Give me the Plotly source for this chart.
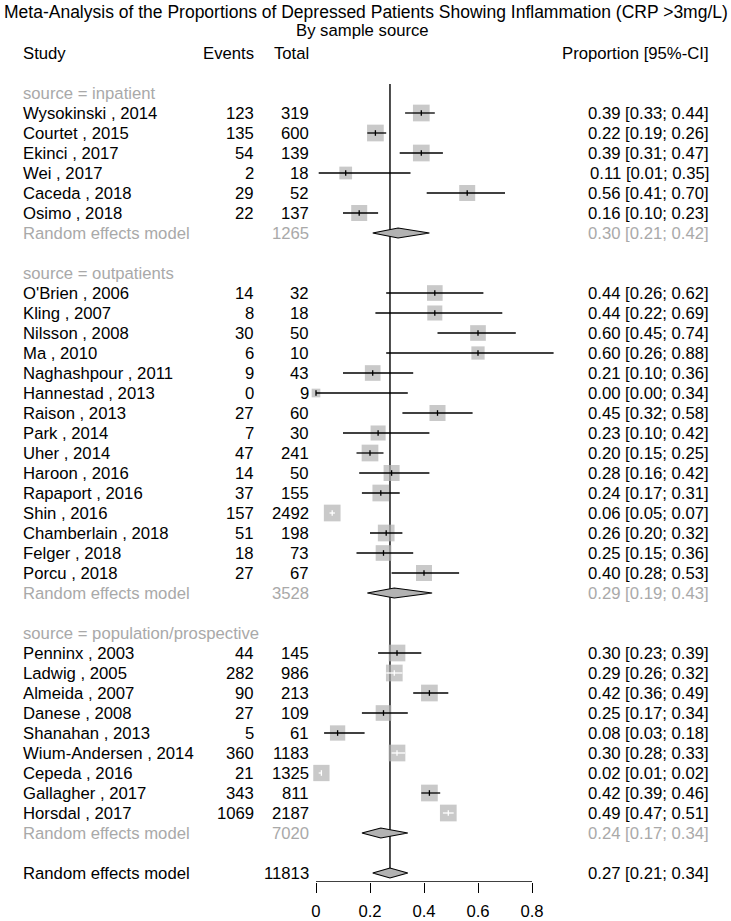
import plotly.graph_objects as go

# ---------------- data ----------------
group_names = ["inpatient", "outpatients", "population/prospective"]

inpatient_studies = ["Wysokinski , 2014", "Courtet , 2015", "Ekinci , 2017", "Wei , 2017",
                     "Caceda , 2018", "Osimo , 2018"]
inpatient_events = [123, 135, 54, 2, 29, 22]
inpatient_total = [319, 600, 139, 18, 52, 137]
inpatient_prop = [0.39, 0.22, 0.39, 0.11, 0.56, 0.16]
inpatient_lower = [0.33, 0.19, 0.31, 0.01, 0.41, 0.10]
inpatient_upper = [0.44, 0.26, 0.47, 0.35, 0.70, 0.23]
inpatient_weight = [1.0, 1.0, 1.0, 0.58, 0.92, 0.92]

outpatient_studies = ["O'Brien , 2006", "Kling , 2007", "Nilsson , 2008", "Ma , 2010",
                      "Naghashpour , 2011", "Hannestad , 2013", "Raison , 2013", "Park , 2014",
                      "Uher , 2014", "Haroon , 2016", "Rapaport , 2016", "Shin , 2016",
                      "Chamberlain , 2018", "Felger , 2018", "Porcu , 2018"]
outpatient_events = [14, 8, 30, 6, 9, 0, 27, 7, 47, 14, 37, 157, 51, 18, 27]
outpatient_total = [32, 18, 50, 10, 43, 9, 60, 30, 241, 50, 155, 2492, 198, 73, 67]
outpatient_prop = [0.44, 0.44, 0.60, 0.60, 0.21, 0.00, 0.45, 0.23, 0.20, 0.28, 0.24, 0.06,
                   0.26, 0.25, 0.40]
outpatient_lower = [0.26, 0.22, 0.45, 0.26, 0.10, 0.00, 0.32, 0.10, 0.15, 0.16, 0.17, 0.05,
                    0.20, 0.15, 0.28]
outpatient_upper = [0.62, 0.69, 0.74, 0.88, 0.36, 0.34, 0.58, 0.42, 0.25, 0.42, 0.31, 0.07,
                    0.32, 0.36, 0.53]
outpatient_weight = [0.88, 0.81, 0.88, 0.63, 0.88, 0.27, 0.92, 0.81, 1.0, 0.92, 1.0, 1.0,
                     1.0, 0.88, 0.92]

population_studies = ["Penninx , 2003", "Ladwig , 2005", "Almeida , 2007", "Danese , 2008",
                      "Shanahan , 2013", "Wium-Andersen , 2014", "Cepeda , 2016",
                      "Gallagher , 2017", "Horsdal , 2017"]
population_events = [44, 282, 90, 27, 5, 360, 21, 343, 1069]
population_total = [145, 986, 213, 109, 61, 1183, 1325, 811, 2187]
population_prop = [0.30, 0.29, 0.42, 0.25, 0.08, 0.30, 0.02, 0.42, 0.49]
population_lower = [0.23, 0.26, 0.36, 0.17, 0.03, 0.28, 0.01, 0.39, 0.47]
population_upper = [0.39, 0.32, 0.49, 0.34, 0.18, 0.33, 0.02, 0.46, 0.51]
population_weight = [1.0, 1.0, 1.0, 0.88, 0.84, 1.0, 0.95, 1.0, 1.0]

subgroup_total = [1265, 3528, 7020]
subgroup_prop = [0.304, 0.29, 0.24]
subgroup_lower = [0.21, 0.19, 0.17]
subgroup_upper = [0.42, 0.43, 0.34]

overall_total = 11813
overall_prop = 0.274
overall_lower = 0.21
overall_upper = 0.34

tick_values = [0, 0.2, 0.4, 0.6, 0.8]
tick_labels = ["0", "0.2", "0.4", "0.6", "0.8"]

title_text = "Meta-Analysis of the Proportions of Depressed Patients Showing Inflammation (CRP >3mg/L)"
subtitle_text = "By sample source"

# ---------------- layout constants ----------------
W, H = 731, 921
FONT = "Liberation Sans, Arial, Helvetica, sans-serif"
FS = 16.7
FS_TITLE = 17.5
BLACK = "#000000"
GREY = "#a9a9a9"
SQ = "#b2b2b2"
PX_PER_UNIT = 270.0      # horizontal pixels per proportion unit
X0_PX = 316.0            # pixel of proportion 0
ROW_PX = 20.0            # pixels per row
ROW0_PX = 113.0          # pixel of first study row
AXIS_PX = 882.0          # pixel of x-axis line
BASE_SIDE = 16.7         # square side for weight 1

groups = [
    dict(name=group_names[0], studies=inpatient_studies, events=inpatient_events,
         total=inpatient_total, prop=inpatient_prop, lo=inpatient_lower,
         hi=inpatient_upper, w=inpatient_weight),
    dict(name=group_names[1], studies=outpatient_studies, events=outpatient_events,
         total=outpatient_total, prop=outpatient_prop, lo=outpatient_lower,
         hi=outpatient_upper, w=outpatient_weight),
    dict(name=group_names[2], studies=population_studies, events=population_events,
         total=population_total, prop=population_prop, lo=population_lower,
         hi=population_upper, w=population_weight),
]

annotations = []


def px_x(px):
    return px / W


def add_text(row, px, text, anchor, color=BLACK):
    annotations.append(dict(x=px_x(px), xref="paper", y=row, yref="y", text=text,
                            xanchor=anchor, yanchor="middle", showarrow=False, borderpad=0,
                            font=dict(family=FONT, size=FS, color=color)))


def ci_text(p, lo, hi):
    return f"{p:.2f} [{lo:.2f}; {hi:.2f}]"


COL_STUDY, COL_EVENTS, COL_TOTAL, COL_CI = 21.5, 255, 309.5, 709.5

# header
add_text(-3, COL_STUDY, "Study", "left")
add_text(-3, COL_EVENTS, "Events", "right")
add_text(-3, COL_TOTAL, "Total", "right")
add_text(-3, COL_CI, "Proportion [95%-CI]", "right")

sq_x, sq_y, sq_size = [], [], []
black_x, black_y = [], []
white_x, white_y = [], []
diamonds = []

row = 0
for gi, g in enumerate(groups):
    add_text(row - 1, COL_STUDY, "source = " + g["name"], "left", GREY)
    for i, name in enumerate(g["studies"]):
        p, lo, hi = g["prop"][i], g["lo"][i], g["hi"][i]
        side = BASE_SIDE * g["w"][i] ** 0.5
        add_text(row, COL_STUDY, name, "left")
        add_text(row, COL_EVENTS, str(g["events"][i]), "right")
        add_text(row, COL_TOTAL, str(g["total"][i]), "right")
        add_text(row, COL_CI, ci_text(p, lo, hi), "right")
        sq_x.append(p)
        sq_y.append(row)
        sq_size.append(side)
        inside = (hi - lo) * PX_PER_UNIT < side
        tx, ty = (white_x, white_y) if inside else (black_x, black_y)
        tx += [lo, hi, None, p, p, None]
        ty += [row, row, None, row - 0.14, row + 0.14, None]
        row += 1
    add_text(row, COL_STUDY, "Random effects model", "left", GREY)
    add_text(row, COL_TOTAL, str(subgroup_total[gi]), "right", GREY)
    add_text(row, COL_CI, ci_text(subgroup_prop[gi], subgroup_lower[gi], subgroup_upper[gi]),
             "right", GREY)
    diamonds.append((row, subgroup_prop[gi], subgroup_lower[gi], subgroup_upper[gi]))
    row += 3
overall_row = row - 1
add_text(overall_row, COL_STUDY, "Random effects model", "left")
add_text(overall_row, COL_TOTAL, str(overall_total), "right")
add_text(overall_row, COL_CI, ci_text(overall_prop, overall_lower, overall_upper), "right")
diamonds.append((overall_row, overall_prop, overall_lower, overall_upper))

# title
annotations.append(dict(x=px_x(366), xref="paper", y=1 - 12 / H, yref="paper",
                        text=title_text, xanchor="center", yanchor="middle", showarrow=False,
                        borderpad=0, font=dict(family=FONT, size=FS_TITLE, color=BLACK)))
annotations.append(dict(x=px_x(362), xref="paper", y=1 - 30 / H, yref="paper",
                        text=subtitle_text, xanchor="center", yanchor="middle", showarrow=False,
                        borderpad=0, font=dict(family=FONT, size=FS, color=BLACK)))

fig = go.Figure()

# vertical reference line at overall estimate
DH = 5.0 / ROW_PX
fig.add_trace(go.Scatter(x=[overall_prop, overall_prop],
                         y=[(84 - ROW0_PX) / ROW_PX, overall_row - DH],
                         mode="lines", line=dict(color=BLACK, width=1.4),
                         hoverinfo="skip", showlegend=False))

# squares
fig.add_trace(go.Scatter(x=sq_x, y=sq_y, mode="markers",
                         marker=dict(symbol="square", size=sq_size, color=SQ,
                                     line=dict(width=0)),
                         hoverinfo="skip", showlegend=False))
# CI lines
fig.add_trace(go.Scatter(x=black_x, y=black_y, mode="lines",
                         line=dict(color=BLACK, width=1.3),
                         hoverinfo="skip", showlegend=False))
fig.add_trace(go.Scatter(x=white_x, y=white_y, mode="lines",
                         line=dict(color="#ffffff", width=1.3),
                         hoverinfo="skip", showlegend=False))

# diamonds
for (r, p, lo, hi) in diamonds:
    fig.add_trace(go.Scatter(x=[lo, p, hi, p, lo], y=[r, r - DH, r, r + DH, r],
                             mode="lines", fill="toself", fillcolor=SQ,
                             line=dict(color=BLACK, width=1.2),
                             hoverinfo="skip", showlegend=False))

# x-axis line from first to last tick
axis_row = (AXIS_PX - ROW0_PX) / ROW_PX
top_row = (0 - ROW0_PX) / ROW_PX
fig.add_shape(type="line", xref="x", yref="y", x0=tick_values[0], x1=tick_values[-1],
              y0=axis_row, y1=axis_row, line=dict(color=BLACK, width=1.3))

fig.update_layout(
    width=W, height=H, autosize=False,
    margin=dict(l=0, r=0, t=0, b=0),
    paper_bgcolor="white", plot_bgcolor="white",
    annotations=annotations,
    showlegend=False,
    xaxis=dict(range=[-X0_PX / PX_PER_UNIT, (W - X0_PX) / PX_PER_UNIT], domain=[0, 1],
               showgrid=False, zeroline=False, showline=False,
               tickvals=tick_values, ticktext=tick_labels, ticks="outside", ticklen=10,
               tickwidth=1.3, tickcolor=BLACK, ticklabelstandoff=4,
               tickfont=dict(family=FONT, size=FS, color=BLACK), fixedrange=True),
    yaxis=dict(range=[axis_row, top_row], domain=[1 - AXIS_PX / H, 1],
               showgrid=False, zeroline=False, showline=False, showticklabels=False,
               ticks="", fixedrange=True),
)

fig.write_html("out.html", config={"displayModeBar": False},
               post_script="document.body.style.margin='0px';"
                           "document.body.style.overflow='hidden';")
